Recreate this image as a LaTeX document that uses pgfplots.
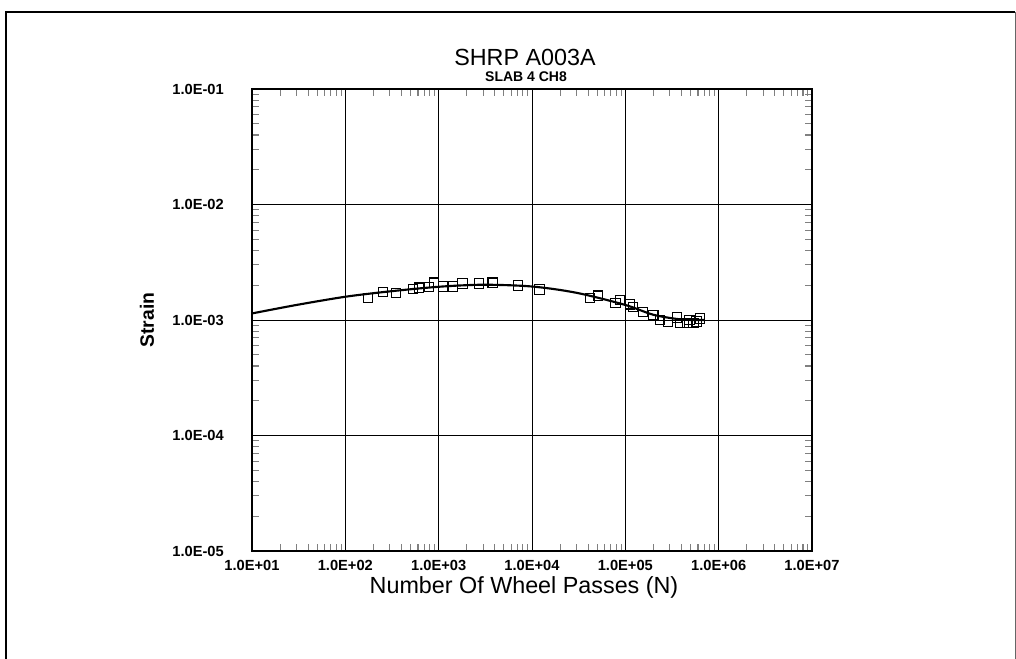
\documentclass[border=0pt]{standalone}
\usepackage{pgfplots}
\pgfplotsset{compat=1.18}
\usepackage{fontspec}
\setmainfont{Liberation Sans}

% measured points
\pgfplotstableread{
N strain
175 0.00155
254 0.00175
349 0.00171
531 0.00185
616 0.00190
789 0.00193
890 0.00210
1115 0.00196
1420 0.00196
1800 0.00206
2700 0.00206
3800 0.00210
7060 0.00200
12000 0.00183
41800 0.00155
51000 0.00162
78000 0.00140
88000 0.00149
112000 0.00137
121000 0.00130
155000 0.00117
199000 0.00110
236000 0.00100
287000 0.00096
357000 0.00105
385000 0.00094
460000 0.00094
490000 0.00100
535000 0.00094
580000 0.00097
630000 0.00103
}\measured

% fitted curve
\pgfplotstableread{
N strain
10 0.00114
30 0.00135
100 0.00159
300 0.00177
1000 0.00194
3000 0.00202
10000 0.00195
30000 0.00172
100000 0.00135
200000 0.00111
400000 0.00101
700000 0.00100
}\fitted

\begin{document}
\begin{tikzpicture}
\useasboundingbox (0,0) rectangle (762pt,494.25pt);
\draw[line width=1.4pt] (4.5pt,0) -- (4.5pt,485.25pt) -- (761.25pt,485.25pt);
\draw[line width=0.4pt,black!60] (761.25pt,485.25pt) -- (761.25pt,0);
\begin{loglogaxis}[
    at={(189pt,81pt)}, anchor=south west,
    scale only axis, width=420pt, height=346.5pt,
    xmin=10, xmax=1e7, ymin=1e-5, ymax=1e-1,
    axis line style={line width=1.1pt},
    grid=major,
    major grid style={black, line width=0.6pt},
    xtick={1e1,1e2,1e3,1e4,1e5,1e6,1e7},
    xticklabels={1.0E+01,1.0E+02,1.0E+03,1.0E+04,1.0E+05,1.0E+06,1.0E+07},
    ytick={1e-5,1e-4,1e-3,1e-2,1e-1},
    yticklabels={1.0E-05,1.0E-04,1.0E-03,1.0E-02,1.0E-01},
    minor xtick={2e1,3e1,4e1,5e1,6e1,7e1,8e1,9e1,
                 2e2,3e2,4e2,5e2,6e2,7e2,8e2,9e2,
                 2e3,3e3,4e3,5e3,6e3,7e3,8e3,9e3,
                 2e4,3e4,4e4,5e4,6e4,7e4,8e4,9e4,
                 2e5,3e5,4e5,5e5,6e5,7e5,8e5,9e5,
                 2e6,3e6,4e6,5e6,6e6,7e6,8e6,9e6},
    minor ytick={2e-5,3e-5,4e-5,5e-5,6e-5,7e-5,8e-5,9e-5,
                 2e-4,3e-4,4e-4,5e-4,6e-4,7e-4,8e-4,9e-4,
                 2e-3,3e-3,4e-3,5e-3,6e-3,7e-3,8e-3,9e-3,
                 2e-2,3e-2,4e-2,5e-2,6e-2,7e-2,8e-2,9e-2},
    tick align=inside,
    major tick length=0pt,
    minor tick length=5.5pt,
    minor tick style={line width=0.8pt},
    ticklabel style={font=\bfseries\fontsize{11}{13}\selectfont, inner sep=1pt},
    xticklabel style={yshift=-6pt},
    yticklabel style={xshift=-20pt},
    clip=false,
]
\addplot[black, line width=1.6pt, smooth, no marks] table[x=N, y=strain] {\fitted};
\addplot[only marks, mark=square, mark size=3.6pt,
         mark options={black, line width=0.8pt, fill=none}] table[x=N, y=strain] {\measured};
\end{loglogaxis}
\node[font=\fontsize{17.5}{20}\selectfont] at (393.75pt,451pt) {SHRP A003A};
\node[font=\bfseries\fontsize{10.5}{12}\selectfont] at (394.5pt,436.5pt) {SLAB 4 CH8};
\node[font=\fontsize{17.5}{21}\selectfont, inner sep=0.5pt] at (393pt,53.5pt) {Number Of Wheel Passes (N)};
\node[font=\bfseries\fontsize{14.5}{17}\selectfont, rotate=90] at (110.25pt,254.25pt) {Strain};
\end{tikzpicture}
\end{document}
